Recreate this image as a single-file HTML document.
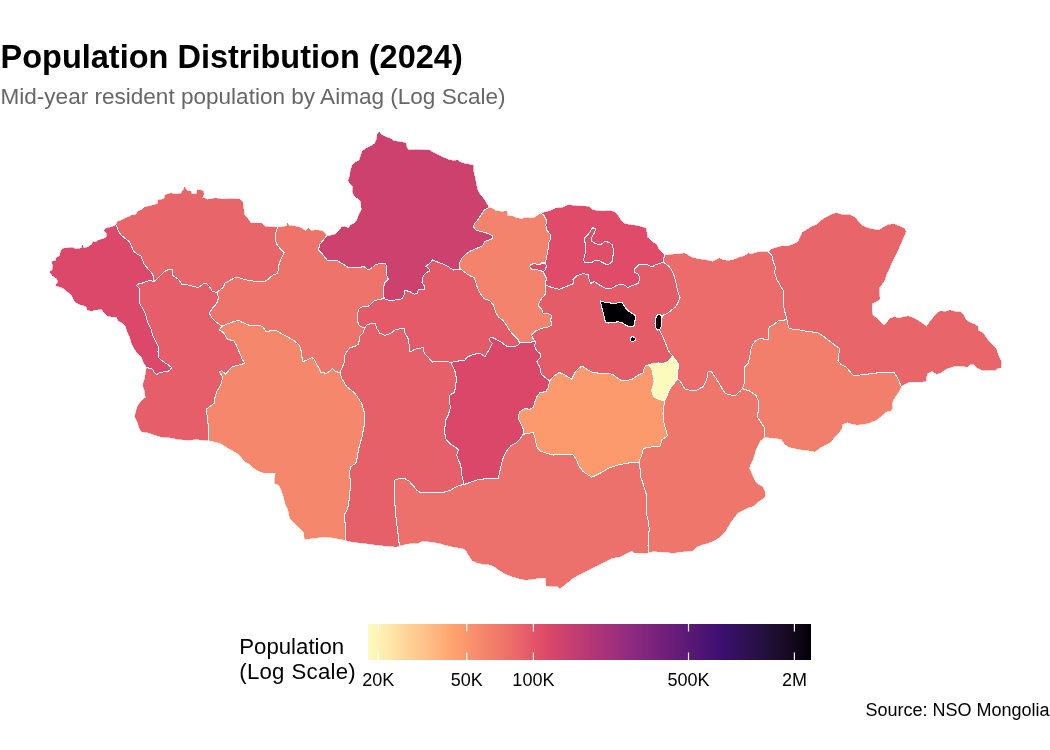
<!DOCTYPE html>
<html><head><meta charset="utf-8"><title>Population Distribution (2024)</title>
<style>
html,body{margin:0;padding:0;background:#fff;}
body{width:1050px;height:750px;position:relative;overflow:hidden;font-family:"Liberation Sans",sans-serif;color:#000;}
.title{position:absolute;left:0.5px;top:38px;font-size:32.5px;font-weight:bold;line-height:38px;white-space:nowrap;letter-spacing:0px;}
.sub{position:absolute;left:0.5px;top:83.5px;font-size:22.55px;line-height:26px;color:#666;white-space:nowrap;}
.legt{position:absolute;left:239.3px;top:633.5px;font-size:22.2px;line-height:25.4px;white-space:nowrap;}
.lab{position:absolute;top:669.6px;font-size:18px;line-height:20px;white-space:nowrap;transform:translateX(-50%);}
.src{position:absolute;right:0.5px;top:700px;font-size:18px;line-height:20px;white-space:nowrap;}
svg{position:absolute;left:0;top:0;}
.fills path{stroke-width:0.5;stroke-linejoin:round;}
.borders path{fill:none;stroke:#fff;stroke-width:1.05;stroke-linejoin:round;stroke-linecap:round;}
.islands path{stroke:#fff;stroke-width:1.05;stroke-linejoin:round;}
</style></head><body>
<svg width="1050" height="750" viewBox="0 0 1050 750">
<defs><linearGradient id="g" x1="0" x2="1" y1="0" y2="0"><stop offset="0.0%" stop-color="#FCFDBF"/><stop offset="2.5%" stop-color="#FEF1B4"/><stop offset="5.0%" stop-color="#FFE6AA"/><stop offset="7.5%" stop-color="#FFDA9F"/><stop offset="10.0%" stop-color="#FFCE95"/><stop offset="12.5%" stop-color="#FFC38B"/><stop offset="15.0%" stop-color="#FFB781"/><stop offset="17.5%" stop-color="#FFAB77"/><stop offset="20.0%" stop-color="#FE9F6D"/><stop offset="22.5%" stop-color="#FA956D"/><stop offset="25.0%" stop-color="#F78B6C"/><stop offset="27.5%" stop-color="#F3816C"/><stop offset="30.0%" stop-color="#EF776B"/><stop offset="32.5%" stop-color="#EB6C6A"/><stop offset="35.0%" stop-color="#E7616A"/><stop offset="37.5%" stop-color="#E25569"/><stop offset="40.0%" stop-color="#DE4968"/><stop offset="42.5%" stop-color="#D4456B"/><stop offset="45.0%" stop-color="#CA406F"/><stop offset="47.5%" stop-color="#C03C72"/><stop offset="50.0%" stop-color="#B63875"/><stop offset="52.5%" stop-color="#AC3478"/><stop offset="55.0%" stop-color="#A2307B"/><stop offset="57.5%" stop-color="#972D7E"/><stop offset="60.0%" stop-color="#8C2981"/><stop offset="62.5%" stop-color="#82257F"/><stop offset="65.0%" stop-color="#79227D"/><stop offset="67.5%" stop-color="#6F1E7B"/><stop offset="70.0%" stop-color="#651B79"/><stop offset="72.5%" stop-color="#5B1876"/><stop offset="75.0%" stop-color="#511574"/><stop offset="77.5%" stop-color="#461272"/><stop offset="80.0%" stop-color="#3B0F70"/><stop offset="82.5%" stop-color="#351062"/><stop offset="85.0%" stop-color="#2F1054"/><stop offset="87.5%" stop-color="#281047"/><stop offset="90.0%" stop-color="#220F3A"/><stop offset="92.5%" stop-color="#1C0D2D"/><stop offset="95.0%" stop-color="#170921"/><stop offset="97.5%" stop-color="#0E0516"/><stop offset="100.0%" stop-color="#000004"/></linearGradient></defs>
<g class="map" shape-rendering="crispEdges">
<g class="fills">
<path class="bayanolgii" fill="#DC4869" stroke="#DC4869" d="M146.7,367.5L145.8,365.8L143.3,361.7L141.7,356.7L137.5,353.3L134.2,348.3L131.7,343.3L130.0,337.5L127.5,331.7L125.8,326.7L123.3,323.3L118.3,320.8L116.7,316.7L111.7,316.7L107.5,315.8L104.2,312.5L101.7,309.2L95.0,309.7L91.7,310.8L87.5,310.0L86.7,306.7L82.5,305.0L79.2,304.2L75.0,301.7L73.3,298.3L71.7,295.0L67.5,291.7L63.3,288.3L60.0,286.7L55.8,285.8L58.0,281.7L56.7,278.3L52.5,275.8L49.7,272.0L52.5,270.0L53.0,265.8L51.7,261.7L55.8,260.8L56.7,257.5L60.0,255.8L60.8,251.7L62.5,248.7L67.5,248.0L72.5,247.5L75.8,249.2L81.7,248.3L82.5,245.3L83.0,248.0L87.5,247.5L91.7,244.7L93.0,241.7L95.0,242.5L99.2,240.0L104.2,238.7L106.7,236.7L106.7,233.3L104.2,230.8L105.8,228.3L110.0,227.5L114.2,226.3L116.3,225.0L117.0,226.7L118.3,230.8L120.8,235.0L125.0,238.3L129.2,241.7L131.7,246.7L133.3,250.8L136.7,253.7L140.8,255.8L142.5,260.0L144.2,264.2L147.5,268.3L150.8,271.7L153.3,275.8L154.2,282.0L150.8,280.3L146.7,281.3L141.7,283.3L137.5,284.2L136.7,285.8L139.2,288.3L139.7,293.3L139.7,300.0L140.0,304.2L143.3,309.2L145.8,315.0L147.5,321.7L150.8,328.3L152.5,335.0L155.8,341.7L158.3,346.7L158.0,351.7L158.3,357.5L163.3,361.7L168.3,365.0L171.7,367.5L169.7,370.8L165.0,371.7L160.0,372.5L156.7,374.5L154.2,372.5L152.5,369.2L146.7,367.5Z"/>
<path class="uvs" fill="#E8666A" stroke="#E8666A" d="M116.3,225.0L117.5,221.7L121.7,220.3L125.0,218.3L129.2,216.7L131.7,215.3L135.8,215.0L137.5,211.7L141.7,210.0L145.0,207.0L149.2,206.3L153.3,205.0L157.5,204.2L158.3,200.0L164.2,199.2L165.0,195.0L170.8,193.3L175.0,194.2L180.8,193.7L183.3,190.0L184.7,187.0L186.7,190.8L190.8,191.3L191.7,194.2L196.7,194.2L197.5,190.0L203.3,190.8L203.7,194.2L202.5,197.5L207.5,199.7L215.0,198.3L223.3,199.2L231.7,198.8L239.2,199.2L242.5,201.7L243.3,207.5L244.2,215.0L248.3,219.2L250.8,223.3L256.7,223.3L261.7,223.3L265.0,226.7L271.7,227.0L277.5,227.5L275.8,232.5L275.0,238.3L276.7,244.2L280.0,248.3L284.2,252.5L281.7,257.5L279.2,263.3L278.3,270.0L277.5,273.3L272.5,275.3L268.3,279.2L265.0,281.3L255.0,281.3L245.0,279.7L238.3,277.5L235.0,277.5L229.2,280.8L224.7,283.3L223.3,287.5L220.0,290.0L216.7,292.5L211.7,290.8L210.8,288.3L207.5,284.2L204.2,283.3L200.8,285.8L198.3,287.5L193.3,286.3L188.3,285.0L181.7,284.2L179.2,280.0L175.8,277.5L173.0,275.8L172.5,269.7L168.3,269.7L164.2,271.7L160.0,275.8L156.7,279.2L154.2,282.0L153.3,275.8L150.8,271.7L147.5,268.3L144.2,264.2L142.5,260.0L140.8,255.8L136.7,253.7L133.3,250.8L131.7,246.7L129.2,241.7L125.0,238.3L120.8,235.0L118.3,230.8L117.0,226.7L116.3,225.0Z"/>
<path class="khovd" fill="#E55E69" stroke="#E55E69" d="M154.2,282.0L156.7,279.2L160.0,275.8L164.2,271.7L168.3,269.7L172.5,269.7L173.0,275.8L175.8,277.5L179.2,280.0L181.7,284.2L188.3,285.0L193.3,286.3L198.3,287.5L200.8,285.8L204.2,283.3L207.5,284.2L210.8,288.3L211.7,290.8L216.7,292.5L218.7,297.5L216.7,303.3L212.5,308.3L209.2,313.0L211.7,317.5L215.8,321.7L221.7,326.3L219.2,330.0L222.5,331.7L225.0,335.0L227.5,339.2L233.7,340.8L236.3,345.0L238.3,350.0L240.8,355.8L242.5,360.0L245.0,363.3L239.2,365.0L232.5,366.7L229.2,370.0L225.8,374.2L221.7,370.8L219.2,371.7L222.5,376.7L221.7,382.5L219.2,387.5L216.7,391.7L215.0,397.5L214.2,403.3L210.8,405.8L206.3,409.2L206.3,411.7L207.5,416.7L208.0,423.3L208.3,431.7L208.7,440.3L203.3,440.0L196.7,439.2L188.3,440.0L178.3,439.2L170.0,437.5L161.7,437.0L155.0,435.0L148.3,432.5L141.7,431.7L139.2,427.5L137.5,421.7L135.0,416.7L136.3,410.8L138.3,405.0L142.5,400.0L145.8,397.5L144.7,390.8L143.0,385.8L143.3,383.3L145.0,378.3L145.8,373.3L146.7,367.5L152.5,369.2L154.2,372.5L156.7,374.5L160.0,372.5L165.0,371.7L169.7,370.8L171.7,367.5L168.3,365.0L163.3,361.7L158.3,357.5L158.0,351.7L158.3,346.7L155.8,341.7L152.5,335.0L150.8,328.3L147.5,321.7L145.8,315.0L143.3,309.2L140.0,304.2L139.7,300.0L139.7,293.3L139.2,288.3L136.7,285.8L137.5,284.2L141.7,283.3L146.7,281.3L150.8,280.3L154.2,282.0Z"/>
<path class="zavkhan" fill="#EE746B" stroke="#EE746B" d="M277.5,227.5L283.3,226.7L286.7,226.3L287.5,223.3L289.2,225.8L295.0,226.3L300.0,227.5L304.2,230.0L305.8,231.3L308.3,228.3L310.8,230.8L316.7,230.3L321.7,230.8L325.0,233.3L326.3,236.3L323.3,240.0L320.0,244.2L318.3,250.0L321.7,253.3L325.0,257.5L327.5,260.3L337.5,260.8L343.3,264.2L348.3,267.5L356.7,267.5L364.2,266.7L368.3,270.0L372.5,267.5L375.8,264.2L381.7,263.7L385.8,263.7L386.7,270.0L387.0,275.8L388.3,279.2L385.0,282.5L383.3,287.5L383.3,293.3L384.2,298.7L380.0,299.2L374.2,300.8L370.8,304.2L367.5,306.7L362.5,306.7L359.2,308.3L357.5,313.3L357.5,320.0L358.3,324.2L360.8,326.7L364.7,328.0L363.3,332.5L360.0,335.8L359.2,340.8L358.3,344.2L354.2,346.7L350.0,347.5L347.5,350.8L345.0,355.0L344.7,361.7L342.5,366.7L340.0,372.5L335.8,371.7L332.5,368.7L330.0,370.8L326.7,373.3L320.8,372.5L319.2,368.3L316.7,364.2L314.2,359.2L311.7,357.5L306.7,360.3L302.5,361.7L301.7,355.0L300.8,349.2L299.2,345.0L294.2,340.8L287.5,336.7L281.7,333.7L276.7,330.8L271.7,330.8L265.8,331.3L262.5,326.3L256.7,325.3L248.3,325.0L242.5,322.5L238.7,320.3L233.3,321.7L226.7,324.2L221.7,326.3L215.8,321.7L211.7,317.5L209.2,313.0L212.5,308.3L216.7,303.3L218.7,297.5L216.7,292.5L220.0,290.0L223.3,287.5L224.7,283.3L229.2,280.8L235.0,277.5L238.3,277.5L245.0,279.7L255.0,281.3L265.0,281.3L268.3,279.2L272.5,275.3L277.5,273.3L278.3,270.0L279.2,263.3L281.7,257.5L284.2,252.5L280.0,248.3L276.7,244.2L275.0,238.3L275.8,232.5L277.5,227.5Z"/>
<path class="govialtai" fill="#F5886C" stroke="#F5886C" d="M221.7,326.3L226.7,324.2L233.3,321.7L238.7,320.3L242.5,322.5L248.3,325.0L256.7,325.3L262.5,326.3L265.8,331.3L271.7,330.8L276.7,330.8L281.7,333.7L287.5,336.7L294.2,340.8L299.2,345.0L300.8,349.2L301.7,355.0L302.5,361.7L306.7,360.3L311.7,357.5L314.2,359.2L316.7,364.2L319.2,368.3L320.8,372.5L326.7,373.3L330.0,370.8L332.5,368.7L335.8,371.7L340.0,372.5L341.7,378.3L346.7,386.7L355.0,393.3L361.7,403.3L365.0,415.0L364.0,426.7L361.7,438.3L358.3,450.0L357.5,456.7L355.8,463.3L350.8,466.7L349.7,471.7L350.0,478.3L350.3,486.7L349.7,495.0L348.7,503.3L347.5,509.2L344.7,514.2L345.0,521.7L345.3,530.0L345.3,540.0L338.3,538.7L331.7,537.5L325.0,536.7L318.3,537.5L311.7,538.3L304.7,539.2L304.2,532.5L300.0,528.3L295.0,523.3L290.0,518.3L288.3,510.0L285.8,505.0L284.2,498.3L281.7,490.8L279.2,485.0L274.7,483.3L274.7,478.3L275.8,472.5L270.0,472.5L263.3,472.5L258.3,470.8L254.2,468.3L250.0,464.2L245.0,461.7L241.7,457.5L237.5,453.3L231.7,450.0L225.8,446.7L220.8,443.3L215.0,441.7L208.7,440.3L208.3,431.7L208.0,423.3L207.5,416.7L206.3,411.7L206.3,409.2L210.8,405.8L214.2,403.3L215.0,397.5L216.7,391.7L219.2,387.5L221.7,382.5L222.5,376.7L219.2,371.7L221.7,370.8L225.8,374.2L229.2,370.0L232.5,366.7L239.2,365.0L245.0,363.3L242.5,360.0L240.8,355.8L238.3,350.0L236.3,345.0L233.7,340.8L227.5,339.2L225.0,335.0L222.5,331.7L219.2,330.0L221.7,326.3Z"/>
<path class="khovsgol" fill="#CD416E" stroke="#CD416E" d="M326.3,236.3L330.0,235.8L335.8,234.2L339.2,230.8L341.7,227.0L345.0,226.7L348.3,228.3L350.8,225.0L355.0,223.3L357.5,219.2L359.2,214.2L361.7,210.0L361.3,205.0L360.8,200.8L357.5,198.3L354.2,195.8L352.5,191.7L353.0,186.7L350.0,183.3L348.3,180.8L350.0,175.8L350.8,170.0L352.5,165.0L355.8,162.0L359.2,160.8L360.8,155.8L362.5,150.8L366.7,148.3L371.7,145.8L375.0,143.3L376.7,139.2L377.5,134.2L379.2,132.0L381.7,135.0L385.8,137.0L390.0,138.3L393.3,140.8L398.3,141.7L403.3,142.5L405.8,143.3L406.7,147.5L408.3,150.0L416.7,149.7L423.3,150.0L429.2,150.3L433.3,152.5L438.3,155.0L443.3,157.5L448.3,159.7L453.3,160.8L457.5,160.3L460.8,162.5L466.7,164.2L473.3,165.3L473.3,171.7L475.0,178.3L476.3,185.0L477.5,190.0L480.0,194.7L483.3,198.3L485.8,202.5L488.7,207.5L484.2,210.0L481.7,214.2L478.3,219.2L475.0,223.3L473.3,226.7L475.8,230.0L481.7,231.7L487.5,233.3L492.5,235.8L493.0,238.3L489.2,240.0L485.0,241.3L482.5,245.8L476.7,248.3L470.8,250.8L465.8,254.2L461.7,258.3L459.7,262.5L460.0,268.7L460.3,268.7L458.3,269.7L453.3,270.0L448.3,266.7L443.3,264.2L436.7,261.7L432.5,260.0L430.0,263.3L425.8,266.3L428.3,268.0L430.0,270.8L427.5,272.0L424.2,274.7L422.5,278.3L422.0,282.5L424.2,285.8L425.0,289.2L418.3,290.0L417.5,293.0L414.2,294.2L410.0,291.7L405.0,290.3L404.2,294.2L402.5,298.7L396.7,299.7L390.0,300.8L384.2,298.7L383.3,293.3L383.3,287.5L385.0,282.5L388.3,279.2L387.0,275.8L386.7,270.0L385.8,263.7L381.7,263.7L375.8,264.2L372.5,267.5L368.3,270.0L364.2,266.7L356.7,267.5L348.3,267.5L343.3,264.2L337.5,260.8L327.5,260.3L325.0,257.5L321.7,253.3L318.3,250.0L320.0,244.2L323.3,240.0L326.3,236.3Z"/>
<path class="arkhangai" fill="#E45A69" stroke="#E45A69" d="M384.2,298.7L390.0,300.8L396.7,299.7L402.5,298.7L404.2,294.2L405.0,290.3L410.0,291.7L414.2,294.2L417.5,293.0L418.3,290.0L425.0,289.2L424.2,285.8L422.0,282.5L422.5,278.3L424.2,274.7L427.5,272.0L430.0,270.8L428.3,268.0L425.8,266.3L430.0,263.3L432.5,260.0L436.7,261.7L443.3,264.2L448.3,266.7L453.3,270.0L458.3,269.7L460.3,268.7L465.0,272.5L470.0,275.8L474.2,277.5L475.8,282.5L477.5,288.3L480.8,294.2L484.2,298.7L490.0,300.8L493.3,305.0L495.8,312.5L498.3,316.7L502.5,320.0L505.8,324.2L508.3,328.3L511.7,333.3L515.8,337.5L518.3,340.0L519.7,343.0L517.5,345.8L511.7,346.7L506.7,346.3L501.7,342.5L496.7,339.7L491.7,337.0L489.7,338.3L490.0,340.8L492.5,343.3L490.0,348.3L487.5,352.5L485.0,356.7L480.0,353.3L474.2,354.2L467.5,356.7L465.0,360.0L456.7,361.3L450.8,362.5L446.7,361.3L440.0,361.7L432.5,362.0L428.3,357.5L424.2,353.3L423.3,347.5L415.0,349.2L410.0,352.0L409.2,345.0L408.0,338.3L405.0,333.3L404.2,328.0L400.0,328.7L395.0,330.0L390.8,333.3L385.0,335.3L380.0,333.3L376.7,328.3L375.3,323.3L371.7,323.3L366.7,325.0L364.7,328.0L360.8,326.7L358.3,324.2L357.5,320.0L357.5,313.3L359.2,308.3L362.5,306.7L367.5,306.7L370.8,304.2L374.2,300.8L380.0,299.2L384.2,298.7Z"/>
<path class="bayankhongor" fill="#E6606A" stroke="#E6606A" d="M364.7,328.0L366.7,325.0L371.7,323.3L375.3,323.3L376.7,328.3L380.0,333.3L385.0,335.3L390.8,333.3L395.0,330.0L400.0,328.7L404.2,328.0L405.0,333.3L408.0,338.3L409.2,345.0L410.0,352.0L415.0,349.2L423.3,347.5L424.2,353.3L428.3,357.5L432.5,362.0L440.0,361.7L446.7,361.3L450.8,362.5L453.3,367.5L455.8,373.3L456.3,380.0L455.3,388.3L454.2,392.5L450.0,395.0L449.7,401.7L450.3,408.3L448.3,415.0L445.8,420.0L445.0,426.7L444.7,433.3L446.3,440.0L450.8,444.2L455.8,447.5L458.3,450.0L456.7,455.0L458.3,460.0L460.8,465.0L461.7,475.0L463.3,480.8L463.7,484.7L459.2,485.3L455.0,487.5L450.8,490.0L445.0,492.0L435.0,492.5L426.7,492.5L419.2,492.0L416.7,490.0L413.3,485.8L409.2,481.3L405.0,478.7L399.2,478.7L395.0,480.0L394.2,483.3L394.2,491.7L394.7,500.0L395.3,510.0L396.3,520.0L397.5,530.0L398.7,538.3L399.2,545.8L396.7,546.7L391.7,546.3L385.0,545.8L378.3,545.0L371.7,544.2L365.0,543.3L358.3,542.5L351.7,541.7L345.3,540.0L345.3,530.0L345.0,521.7L344.7,514.2L347.5,509.2L348.7,503.3L349.7,495.0L350.3,486.7L350.0,478.3L349.7,471.7L350.8,466.7L355.8,463.3L357.5,456.7L358.3,450.0L361.7,438.3L364.0,426.7L365.0,415.0L361.7,403.3L355.0,393.3L346.7,386.7L341.7,378.3L340.0,372.5L342.5,366.7L344.7,361.7L345.0,355.0L347.5,350.8L350.0,347.5L354.2,346.7L358.3,344.2L359.2,340.8L360.0,335.8L363.3,332.5L364.7,328.0Z"/>
<path class="bulgan" fill="#F3836C" stroke="#F3836C" d="M488.7,207.5L492.5,208.7L495.8,210.8L501.7,211.7L506.7,211.3L507.5,215.8L512.5,216.3L516.7,218.0L521.7,219.2L525.8,217.5L530.8,218.3L535.0,217.5L538.3,215.0L541.3,213.3L544.2,215.8L546.7,220.8L545.8,225.0L546.7,230.0L550.0,234.2L550.8,238.3L548.3,243.3L548.0,250.0L546.7,256.7L545.3,263.0L546.3,265.8L545.8,269.2L543.3,271.7L544.7,275.0L546.3,278.0L545.8,282.5L545.8,285.0L545.3,289.2L545.0,295.0L541.7,298.3L539.2,302.5L538.3,305.8L541.7,309.2L543.0,313.3L548.3,313.7L551.3,315.0L550.8,320.8L552.0,325.0L548.3,327.0L541.7,328.3L535.8,330.8L531.7,335.0L533.3,339.2L535.3,341.7L534.2,341.7L526.7,342.5L519.7,343.0L518.3,340.0L515.8,337.5L511.7,333.3L508.3,328.3L505.8,324.2L502.5,320.0L498.3,316.7L495.8,312.5L493.3,305.0L490.0,300.8L484.2,298.7L480.8,294.2L477.5,288.3L475.8,282.5L474.2,277.5L470.0,275.8L465.0,272.5L460.3,268.7L460.0,268.7L459.7,262.5L461.7,258.3L465.8,254.2L470.8,250.8L476.7,248.3L482.5,245.8L485.0,241.3L489.2,240.0L493.0,238.3L492.5,235.8L487.5,233.3L481.7,231.7L475.8,230.0L473.3,226.7L475.0,223.3L478.3,219.2L481.7,214.2L484.2,210.0L488.7,207.5Z"/>
<path class="ovorkhangai" fill="#DB4769" stroke="#DB4769" d="M450.8,362.5L456.7,361.3L465.0,360.0L467.5,356.7L474.2,354.2L480.0,353.3L485.0,356.7L487.5,352.5L490.0,348.3L492.5,343.3L490.0,340.8L489.7,338.3L491.7,337.0L496.7,339.7L501.7,342.5L506.7,346.3L511.7,346.7L517.5,345.8L519.7,343.0L526.7,342.5L534.2,341.7L535.3,341.7L534.7,346.7L536.7,350.8L540.0,353.3L540.3,357.5L536.7,361.7L539.7,366.7L541.3,374.2L545.0,377.5L549.7,380.8L548.3,387.5L545.8,391.7L540.0,392.5L536.7,396.7L535.0,401.7L533.3,407.5L530.0,409.2L524.2,408.7L520.0,411.7L518.3,415.8L519.2,420.8L521.7,425.0L523.3,429.2L523.3,434.2L520.0,439.2L516.7,442.5L510.8,445.8L506.7,450.8L503.3,457.5L501.3,465.0L498.3,478.3L488.3,478.3L476.7,480.0L463.7,484.7L463.3,480.8L461.7,475.0L460.8,465.0L458.3,460.0L456.7,455.0L458.3,450.0L455.8,447.5L450.8,444.2L446.3,440.0L444.7,433.3L445.0,426.7L445.8,420.0L448.3,415.0L450.3,408.3L449.7,401.7L450.0,395.0L454.2,392.5L455.3,388.3L456.3,380.0L455.8,373.3L453.3,367.5L450.8,362.5Z"/>
<path class="selenge" fill="#DF4B68" stroke="#DF4B68" d="M541.3,213.3L545.8,212.0L550.8,210.8L555.8,208.3L563.3,207.5L568.3,205.0L574.2,205.8L581.7,206.3L589.2,206.7L591.7,209.7L596.7,210.8L603.3,211.3L610.0,210.8L614.2,212.0L617.5,215.0L620.0,219.2L623.3,223.3L626.7,224.3L636.7,225.7L645.8,228.3L646.7,233.3L647.5,237.5L651.7,241.7L656.7,244.7L658.3,248.3L661.7,252.5L664.7,255.5L663.7,258.3L663.8,262.5L660.8,263.0L655.8,264.7L651.7,267.0L648.3,265.0L643.3,264.2L638.3,265.0L634.2,269.2L635.0,272.5L638.3,274.2L639.7,278.3L638.3,283.3L631.7,285.8L627.5,287.5L625.0,285.3L620.8,284.2L615.8,285.8L611.7,288.3L606.7,288.7L602.5,286.7L598.3,284.2L594.2,281.7L590.8,283.3L589.2,280.0L588.3,274.7L583.3,273.7L576.7,275.8L573.0,279.2L573.3,283.7L565.8,286.7L559.2,289.2L551.7,287.5L545.8,285.0L545.8,282.5L546.3,278.0L544.7,275.0L543.3,271.7L545.8,269.2L546.3,265.8L545.3,263.0L546.7,256.7L548.0,250.0L548.3,243.3L550.8,238.3L550.0,234.2L546.7,230.0L545.8,225.0L546.7,220.8L544.2,215.8L541.3,213.3Z"/>
<path class="tov" fill="#E55C69" stroke="#E55C69" d="M545.8,285.0L551.7,287.5L559.2,289.2L565.8,286.7L573.3,283.7L573.0,279.2L576.7,275.8L583.3,273.7L588.3,274.7L589.2,280.0L590.8,283.3L594.2,281.7L598.3,284.2L602.5,286.7L606.7,288.7L611.7,288.3L615.8,285.8L620.8,284.2L625.0,285.3L627.5,287.5L631.7,285.8L638.3,283.3L639.7,278.3L638.3,274.2L635.0,272.5L634.2,269.2L638.3,265.0L643.3,264.2L648.3,265.0L651.7,267.0L655.8,264.7L660.8,263.0L663.8,262.5L668.3,265.8L671.7,270.0L674.2,275.8L675.8,281.7L677.0,288.3L678.3,293.3L680.0,297.5L678.0,302.5L675.8,306.7L671.7,310.0L667.5,313.3L663.3,315.0L662.0,317.5L661.3,321.7L661.7,325.0L660.0,329.2L659.7,330.3L662.5,335.8L665.0,341.7L667.5,348.3L668.3,350.8L672.5,355.8L670.8,358.3L667.5,361.7L663.3,363.3L658.3,363.0L653.3,363.3L648.3,365.0L645.8,365.8L644.2,368.3L643.3,373.0L640.0,374.2L635.8,376.7L631.7,379.7L626.7,380.3L620.8,380.3L616.7,377.5L612.5,374.2L606.7,373.3L600.0,373.3L593.3,372.5L586.7,369.2L582.5,366.3L579.2,367.5L575.0,372.5L571.7,379.2L565.0,375.0L559.2,372.5L554.2,375.8L549.7,380.8L545.0,377.5L541.3,374.2L539.7,366.7L536.7,361.7L540.3,357.5L540.0,353.3L536.7,350.8L534.7,346.7L535.3,341.7L533.3,339.2L531.7,335.0L535.8,330.8L541.7,328.3L548.3,327.0L552.0,325.0L550.8,320.8L551.3,315.0L548.3,313.7L543.0,313.3L541.7,309.2L538.3,305.8L539.2,302.5L541.7,298.3L545.0,295.0L545.3,289.2L545.8,285.0Z"/>
<path class="khentii" fill="#EB6C6A" stroke="#EB6C6A" d="M664.7,255.5L670.0,254.7L678.3,254.2L684.2,253.3L687.5,255.0L691.7,257.5L698.3,259.2L705.0,260.0L712.5,261.7L715.8,260.3L719.2,258.3L722.5,260.0L728.3,260.8L733.3,260.0L739.2,257.5L745.0,255.8L748.3,253.3L751.7,254.2L756.7,252.5L763.3,251.7L768.3,252.0L771.7,255.0L773.3,261.7L775.3,266.7L774.7,273.3L776.7,279.2L780.0,285.0L783.3,290.8L783.7,296.7L783.3,305.0L785.0,312.5L787.0,319.7L778.3,320.8L773.3,325.0L769.2,326.7L768.3,333.3L768.7,340.0L764.2,339.2L760.3,338.3L755.8,340.8L752.5,344.7L750.8,350.0L749.7,356.7L748.3,363.0L745.0,366.7L744.2,373.3L745.0,380.0L743.7,385.0L742.5,388.7L740.0,391.3L735.8,395.3L731.7,395.3L725.0,393.3L722.5,389.2L719.7,384.2L716.7,379.2L714.2,375.8L711.7,372.0L708.0,371.7L707.5,376.7L705.8,381.7L703.3,386.7L700.0,388.3L698.3,389.7L694.2,390.8L689.2,390.0L685.0,389.2L682.5,385.0L680.0,380.8L677.0,378.7L677.5,374.2L678.0,368.3L678.0,363.3L675.8,360.0L672.5,355.8L668.3,350.8L667.5,348.3L665.0,341.7L662.5,335.8L659.7,330.3L660.0,329.2L661.7,325.0L661.3,321.7L662.0,317.5L663.3,315.0L667.5,313.3L671.7,310.0L675.8,306.7L678.0,302.5L680.0,297.5L678.3,293.3L677.0,288.3L675.8,281.7L674.2,275.8L671.7,270.0L668.3,265.8L663.8,262.5L663.7,258.3L664.7,255.5Z"/>
<path class="dornod" fill="#E8666A" stroke="#E8666A" d="M768.3,252.0L771.7,249.2L776.7,247.5L781.7,246.3L788.3,246.3L793.3,244.2L798.3,242.0L800.0,237.5L802.5,232.5L806.7,230.0L811.7,226.7L816.7,224.7L820.8,220.8L825.8,217.5L830.8,215.0L835.8,213.0L841.7,214.7L850.0,215.0L855.0,217.5L858.3,221.7L862.5,225.8L868.3,228.3L875.0,229.7L879.2,230.0L883.3,227.5L888.3,224.7L894.2,224.2L899.2,226.3L904.2,228.3L905.8,231.7L903.3,237.5L900.8,243.3L898.3,249.2L895.0,255.8L892.5,260.8L890.0,266.7L887.5,271.7L885.8,275.8L885.0,279.2L882.5,283.3L879.2,287.5L879.2,293.3L879.7,299.2L875.8,301.7L871.7,303.3L871.7,309.2L872.5,315.0L876.7,318.3L880.8,322.5L884.2,325.8L887.5,321.7L890.0,318.7L894.2,317.0L899.2,318.3L903.3,317.0L908.3,316.3L913.3,318.0L918.3,320.8L923.3,324.2L926.7,326.7L930.0,321.7L933.3,317.5L936.7,313.7L940.0,311.3L945.0,311.7L950.0,310.3L955.0,311.7L960.8,312.0L963.3,315.0L965.8,320.0L970.0,322.5L975.0,324.7L978.0,326.7L978.3,330.8L983.3,333.3L985.8,337.5L989.2,341.7L992.5,345.0L995.8,348.3L997.5,353.3L999.2,357.5L1001.3,361.7L1000.8,367.5L996.7,368.7L995.8,370.0L990.0,370.0L983.3,370.3L979.2,368.7L975.8,366.7L974.2,364.2L970.0,364.2L967.5,366.7L963.3,366.3L958.3,365.8L953.3,366.3L948.3,368.0L944.2,370.0L940.8,372.5L936.7,374.2L933.3,371.7L931.7,371.3L927.5,373.0L926.3,376.7L925.8,381.3L920.0,381.7L914.2,381.7L909.2,382.0L906.7,383.3L902.5,385.0L901.3,386.7L899.2,381.7L896.7,376.7L894.2,372.5L886.7,372.5L876.7,373.0L866.7,374.2L860.0,375.0L853.7,375.8L850.0,371.7L846.7,367.5L840.8,364.2L838.0,360.8L838.7,354.2L840.0,348.7L834.2,344.7L828.3,340.0L821.7,335.0L816.7,332.5L806.7,331.3L798.3,329.7L789.2,328.7L788.0,325.0L787.0,319.7L785.0,312.5L783.3,305.0L783.7,296.7L783.3,290.8L780.0,285.0L776.7,279.2L774.7,273.3L775.3,266.7L773.3,261.7L771.7,255.0L768.3,252.0Z"/>
<path class="sukhbaatar" fill="#F27E6C" stroke="#F27E6C" d="M787.0,319.7L788.0,325.0L789.2,328.7L798.3,329.7L806.7,331.3L816.7,332.5L821.7,335.0L828.3,340.0L834.2,344.7L840.0,348.7L838.7,354.2L838.0,360.8L840.8,364.2L846.7,367.5L850.0,371.7L853.7,375.8L860.0,375.0L866.7,374.2L876.7,373.0L886.7,372.5L894.2,372.5L896.7,376.7L899.2,381.7L901.3,386.7L899.2,390.8L895.8,395.8L893.0,400.0L891.7,404.2L892.5,407.5L890.8,410.8L885.8,411.7L882.5,415.0L878.3,418.3L876.7,419.7L870.0,422.5L863.3,424.2L856.7,424.7L851.7,423.7L847.5,422.2L842.5,424.2L841.7,428.3L838.3,433.3L834.2,437.5L830.0,442.5L825.0,445.0L820.0,447.5L815.0,451.7L808.3,450.3L801.7,449.7L795.0,448.3L789.2,447.0L785.0,444.2L781.3,439.2L775.0,438.0L769.2,437.5L765.0,437.0L764.7,428.3L761.7,423.3L757.5,417.5L758.3,410.0L758.7,401.7L755.8,395.0L749.2,390.8L742.5,388.7L743.7,385.0L745.0,380.0L744.2,373.3L745.0,366.7L748.3,363.0L749.7,356.7L750.8,350.0L752.5,344.7L755.8,340.8L760.3,338.3L764.2,339.2L768.7,340.0L768.3,333.3L769.2,326.7L773.3,325.0L778.3,320.8L787.0,319.7Z"/>
<path class="dornogovi" fill="#EE766B" stroke="#EE766B" d="M677.0,378.7L680.0,380.8L682.5,385.0L685.0,389.2L689.2,390.0L694.2,390.8L698.3,389.7L700.0,388.3L703.3,386.7L705.8,381.7L707.5,376.7L708.0,371.7L711.7,372.0L714.2,375.8L716.7,379.2L719.7,384.2L722.5,389.2L725.0,393.3L731.7,395.3L735.8,395.3L740.0,391.3L742.5,388.7L749.2,390.8L755.8,395.0L758.7,401.7L758.3,410.0L757.5,417.5L761.7,423.3L764.7,428.3L765.0,437.0L760.0,440.8L757.5,445.8L755.0,451.7L753.3,458.3L750.8,463.3L749.2,468.3L751.7,474.2L754.2,480.0L757.5,484.2L762.5,486.7L764.7,491.7L765.0,495.8L763.3,498.3L759.2,500.8L755.8,504.2L752.5,506.3L748.3,507.5L743.3,510.0L737.5,513.0L734.2,517.5L730.8,521.7L727.5,527.5L724.2,532.5L720.0,537.0L714.2,540.3L708.3,543.0L701.7,544.7L696.7,546.7L692.5,550.8L686.7,551.3L680.0,551.7L673.3,553.0L666.7,552.0L660.0,551.7L653.3,551.3L648.3,552.5L648.0,545.0L648.7,536.7L649.2,528.3L648.0,520.0L646.3,513.3L646.3,505.0L647.0,496.7L645.0,490.0L642.5,481.7L640.0,475.0L640.7,473.3L639.2,463.0L640.0,459.2L641.7,455.0L643.3,449.2L646.7,447.5L653.3,446.7L659.7,446.7L660.8,444.2L661.7,440.0L664.2,438.3L667.5,435.8L666.7,432.5L665.0,426.7L663.3,420.0L663.0,413.3L663.7,406.7L665.0,400.3L666.7,396.7L668.3,391.7L670.8,387.5L674.2,383.3L677.0,378.7Z"/>
<path class="dundgovi" fill="#FC9A6D" stroke="#FC9A6D" d="M549.7,380.8L554.2,375.8L559.2,372.5L565.0,375.0L571.7,379.2L575.0,372.5L579.2,367.5L582.5,366.3L586.7,369.2L593.3,372.5L600.0,373.3L606.7,373.3L612.5,374.2L616.7,377.5L620.8,380.3L626.7,380.3L631.7,379.7L635.8,376.7L640.0,374.2L643.3,373.0L644.2,368.3L645.8,365.8L648.3,365.0L650.8,367.5L652.5,370.8L653.3,376.7L654.2,381.7L653.0,385.8L651.7,390.8L653.3,395.8L656.7,398.7L660.8,400.0L665.0,400.3L663.7,406.7L663.0,413.3L663.3,420.0L665.0,426.7L666.7,432.5L667.5,435.8L664.2,438.3L661.7,440.0L660.8,444.2L659.7,446.7L653.3,446.7L646.7,447.5L643.3,449.2L641.7,455.0L640.0,459.2L639.2,463.0L630.0,462.7L618.3,465.0L608.3,468.3L600.0,473.3L591.7,477.3L583.3,471.7L578.3,465.0L576.7,460.0L573.3,455.0L563.3,454.7L553.3,455.0L546.7,453.3L540.0,450.8L536.7,446.7L535.0,438.3L533.3,432.5L528.3,433.3L523.3,434.2L523.3,429.2L521.7,425.0L519.2,420.8L518.3,415.8L520.0,411.7L524.2,408.7L530.0,409.2L533.3,407.5L535.0,401.7L536.7,396.7L540.0,392.5L545.8,391.7L548.3,387.5L549.7,380.8Z"/>
<path class="omnogovi" fill="#EC706B" stroke="#EC706B" d="M463.7,484.7L476.7,480.0L488.3,478.3L498.3,478.3L501.3,465.0L503.3,457.5L506.7,450.8L510.8,445.8L516.7,442.5L520.0,439.2L523.3,434.2L528.3,433.3L533.3,432.5L535.0,438.3L536.7,446.7L540.0,450.8L546.7,453.3L553.3,455.0L563.3,454.7L573.3,455.0L576.7,460.0L578.3,465.0L583.3,471.7L591.7,477.3L600.0,473.3L608.3,468.3L618.3,465.0L630.0,462.7L639.2,463.0L640.7,473.3L640.0,475.0L642.5,481.7L645.0,490.0L647.0,496.7L646.3,505.0L646.3,513.3L648.0,520.0L649.2,528.3L648.7,536.7L648.0,545.0L648.3,552.5L645.8,553.3L640.0,552.5L634.2,552.5L631.7,550.8L626.7,553.0L623.3,555.0L620.0,556.7L618.3,556.7L611.7,558.3L605.0,561.7L598.3,565.0L591.7,568.3L585.0,571.7L578.3,575.0L572.5,578.3L568.3,581.7L564.2,585.0L559.7,588.7L557.5,586.3L551.7,586.3L546.3,585.8L545.8,577.5L538.3,578.0L531.7,579.2L525.0,579.7L518.3,578.3L511.7,576.3L505.0,573.7L499.2,570.0L493.3,565.8L488.3,564.2L483.3,564.2L477.5,562.5L472.5,560.8L469.2,555.8L465.8,550.0L462.5,548.3L453.3,546.7L446.7,545.3L440.0,543.3L433.3,542.0L426.7,541.3L420.8,541.3L418.3,543.3L411.7,543.0L405.0,544.2L399.2,545.8L398.7,538.3L397.5,530.0L396.3,520.0L395.3,510.0L394.7,500.0L394.2,491.7L394.2,483.3L395.0,480.0L399.2,478.7L405.0,478.7L409.2,481.3L413.3,485.8L416.7,490.0L419.2,492.0L426.7,492.5L435.0,492.5L445.0,492.0L450.8,490.0L455.0,487.5L459.2,485.3L463.7,484.7Z"/>
<path class="govisumber" fill="#FCFBBD" stroke="#FCFBBD" d="M648.3,365.0L653.3,363.3L658.3,363.0L663.3,363.3L667.5,361.7L670.8,358.3L672.5,355.8L675.8,360.0L678.0,363.3L678.0,368.3L677.5,374.2L677.0,378.7L674.2,383.3L670.8,387.5L668.3,391.7L666.7,396.7L665.0,400.3L660.8,400.0L656.7,398.7L653.3,395.8L651.7,390.8L653.0,385.8L654.2,381.7L653.3,376.7L652.5,370.8L650.8,367.5L648.3,365.0Z"/>
</g>
<g class="borders">
<path class="b_bo_uvs" d="M116.3,225.0L117.0,226.7L118.3,230.8L120.8,235.0L125.0,238.3L129.2,241.7L131.7,246.7L133.3,250.8L136.7,253.7L140.8,255.8L142.5,260.0L144.2,264.2L147.5,268.3L150.8,271.7L153.3,275.8L154.2,282.0"/>
<path class="b_bo_khovd" d="M154.2,282.0L150.8,280.3L146.7,281.3L141.7,283.3L137.5,284.2L136.7,285.8L139.2,288.3L139.7,293.3L139.7,300.0L140.0,304.2L143.3,309.2L145.8,315.0L147.5,321.7L150.8,328.3L152.5,335.0L155.8,341.7L158.3,346.7L158.0,351.7L158.3,357.5L163.3,361.7L168.3,365.0L171.7,367.5L169.7,370.8L165.0,371.7L160.0,372.5L156.7,374.5L154.2,372.5L152.5,369.2L146.7,367.5"/>
<path class="b_uvs_khovd" d="M154.2,282.0L156.7,279.2L160.0,275.8L164.2,271.7L168.3,269.7L172.5,269.7L173.0,275.8L175.8,277.5L179.2,280.0L181.7,284.2L188.3,285.0L193.3,286.3L198.3,287.5L200.8,285.8L204.2,283.3L207.5,284.2L210.8,288.3L211.7,290.8L216.7,292.5"/>
<path class="b_uvs_zav" d="M277.5,227.5L275.8,232.5L275.0,238.3L276.7,244.2L280.0,248.3L284.2,252.5L281.7,257.5L279.2,263.3L278.3,270.0L277.5,273.3L272.5,275.3L268.3,279.2L265.0,281.3L255.0,281.3L245.0,279.7L238.3,277.5L235.0,277.5L229.2,280.8L224.7,283.3L223.3,287.5L220.0,290.0L216.7,292.5"/>
<path class="b_khovd_zav" d="M216.7,292.5L218.7,297.5L216.7,303.3L212.5,308.3L209.2,313.0L211.7,317.5L215.8,321.7L221.7,326.3"/>
<path class="b_khovd_ga" d="M221.7,326.3L219.2,330.0L222.5,331.7L225.0,335.0L227.5,339.2L233.7,340.8L236.3,345.0L238.3,350.0L240.8,355.8L242.5,360.0L245.0,363.3L239.2,365.0L232.5,366.7L229.2,370.0L225.8,374.2L221.7,370.8L219.2,371.7L222.5,376.7L221.7,382.5L219.2,387.5L216.7,391.7L215.0,397.5L214.2,403.3L210.8,405.8L206.3,409.2L206.3,411.7L207.5,416.7L208.0,423.3L208.3,431.7L208.7,440.3"/>
<path class="b_zav_ga" d="M221.7,326.3L226.7,324.2L233.3,321.7L238.7,320.3L242.5,322.5L248.3,325.0L256.7,325.3L262.5,326.3L265.8,331.3L271.7,330.8L276.7,330.8L281.7,333.7L287.5,336.7L294.2,340.8L299.2,345.0L300.8,349.2L301.7,355.0L302.5,361.7L306.7,360.3L311.7,357.5L314.2,359.2L316.7,364.2L319.2,368.3L320.8,372.5L326.7,373.3L330.0,370.8L332.5,368.7L335.8,371.7L340.0,372.5"/>
<path class="b_zav_khov" d="M326.3,236.3L323.3,240.0L320.0,244.2L318.3,250.0L321.7,253.3L325.0,257.5L327.5,260.3L337.5,260.8L343.3,264.2L348.3,267.5L356.7,267.5L364.2,266.7L368.3,270.0L372.5,267.5L375.8,264.2L381.7,263.7L385.8,263.7L386.7,270.0L387.0,275.8L388.3,279.2L385.0,282.5L383.3,287.5L383.3,293.3L384.2,298.7"/>
<path class="b_khov_ark" d="M384.2,298.7L390.0,300.8L396.7,299.7L402.5,298.7L404.2,294.2L405.0,290.3L410.0,291.7L414.2,294.2L417.5,293.0L418.3,290.0L425.0,289.2L424.2,285.8L422.0,282.5L422.5,278.3L424.2,274.7L427.5,272.0L430.0,270.8L428.3,268.0L425.8,266.3L430.0,263.3L432.5,260.0L436.7,261.7L443.3,264.2L448.3,266.7L453.3,270.0L458.3,269.7L460.3,268.7"/>
<path class="b_khov_bul" d="M460.0,268.7L459.7,262.5L461.7,258.3L465.8,254.2L470.8,250.8L476.7,248.3L482.5,245.8L485.0,241.3L489.2,240.0L493.0,238.3L492.5,235.8L487.5,233.3L481.7,231.7L475.8,230.0L473.3,226.7L475.0,223.3L478.3,219.2L481.7,214.2L484.2,210.0L488.7,207.5"/>
<path class="b_zav_ark" d="M384.2,298.7L380.0,299.2L374.2,300.8L370.8,304.2L367.5,306.7L362.5,306.7L359.2,308.3L357.5,313.3L357.5,320.0L358.3,324.2L360.8,326.7L364.7,328.0"/>
<path class="b_zav_bkh" d="M364.7,328.0L363.3,332.5L360.0,335.8L359.2,340.8L358.3,344.2L354.2,346.7L350.0,347.5L347.5,350.8L345.0,355.0L344.7,361.7L342.5,366.7L340.0,372.5"/>
<path class="b_ark_bkh" d="M364.7,328.0L366.7,325.0L371.7,323.3L375.3,323.3L376.7,328.3L380.0,333.3L385.0,335.3L390.8,333.3L395.0,330.0L400.0,328.7L404.2,328.0L405.0,333.3L408.0,338.3L409.2,345.0L410.0,352.0L415.0,349.2L423.3,347.5L424.2,353.3L428.3,357.5L432.5,362.0L440.0,361.7L446.7,361.3L450.8,362.5"/>
<path class="b_ga_bkh" d="M340.0,372.5L341.7,378.3L346.7,386.7L355.0,393.3L361.7,403.3L365.0,415.0L364.0,426.7L361.7,438.3L358.3,450.0L357.5,456.7L355.8,463.3L350.8,466.7L349.7,471.7L350.0,478.3L350.3,486.7L349.7,495.0L348.7,503.3L347.5,509.2L344.7,514.2L345.0,521.7L345.3,530.0L345.3,540.0"/>
<path class="b_bul_ark" d="M460.3,268.7L465.0,272.5L470.0,275.8L474.2,277.5L475.8,282.5L477.5,288.3L480.8,294.2L484.2,298.7L490.0,300.8L493.3,305.0L495.8,312.5L498.3,316.7L502.5,320.0L505.8,324.2L508.3,328.3L511.7,333.3L515.8,337.5L518.3,340.0L519.7,343.0"/>
<path class="b_ark_ovo" d="M450.8,362.5L456.7,361.3L465.0,360.0L467.5,356.7L474.2,354.2L480.0,353.3L485.0,356.7L487.5,352.5L490.0,348.3L492.5,343.3L490.0,340.8L489.7,338.3L491.7,337.0L496.7,339.7L501.7,342.5L506.7,346.3L511.7,346.7L517.5,345.8L519.7,343.0"/>
<path class="b_bul_ovo" d="M519.7,343.0L526.7,342.5L534.2,341.7L535.3,341.7"/>
<path class="b_ovo_tov" d="M535.3,341.7L534.7,346.7L536.7,350.8L540.0,353.3L540.3,357.5L536.7,361.7L539.7,366.7L541.3,374.2L545.0,377.5L549.7,380.8"/>
<path class="b_bul_tov" d="M535.3,341.7L533.3,339.2L531.7,335.0L535.8,330.8L541.7,328.3L548.3,327.0L552.0,325.0L550.8,320.8L551.3,315.0L548.3,313.7L543.0,313.3L541.7,309.2L538.3,305.8L539.2,302.5L541.7,298.3L545.0,295.0L545.3,289.2L545.8,285.0"/>
<path class="b_bul_sel" d="M545.8,285.0L545.8,282.5L546.3,278.0L544.7,275.0L543.3,271.7L545.8,269.2L546.3,265.8L545.3,263.0L546.7,256.7L548.0,250.0L548.3,243.3L550.8,238.3L550.0,234.2L546.7,230.0L545.8,225.0L546.7,220.8L544.2,215.8L541.3,213.3"/>
<path class="b_sel_tov" d="M545.8,285.0L551.7,287.5L559.2,289.2L565.8,286.7L573.3,283.7L573.0,279.2L576.7,275.8L583.3,273.7L588.3,274.7L589.2,280.0L590.8,283.3L594.2,281.7L598.3,284.2L602.5,286.7L606.7,288.7L611.7,288.3L615.8,285.8L620.8,284.2L625.0,285.3L627.5,287.5L631.7,285.8L638.3,283.3L639.7,278.3L638.3,274.2L635.0,272.5L634.2,269.2L638.3,265.0L643.3,264.2L648.3,265.0L651.7,267.0L655.8,264.7L660.8,263.0L663.8,262.5"/>
<path class="b_sel_khe" d="M664.7,255.5L663.7,258.3L663.8,262.5"/>
<path class="b_tov_khe" d="M663.8,262.5L668.3,265.8L671.7,270.0L674.2,275.8L675.8,281.7L677.0,288.3L678.3,293.3L680.0,297.5L678.0,302.5L675.8,306.7L671.7,310.0L667.5,313.3L663.3,315.0L662.0,317.5L661.3,321.7L661.7,325.0L660.0,329.2L659.7,330.3L662.5,335.8L665.0,341.7L667.5,348.3L668.3,350.8L672.5,355.8"/>
<path class="b_tov_gs" d="M672.5,355.8L670.8,358.3L667.5,361.7L663.3,363.3L658.3,363.0L653.3,363.3L648.3,365.0"/>
<path class="b_tov_dun" d="M648.3,365.0L645.8,365.8L644.2,368.3L643.3,373.0L640.0,374.2L635.8,376.7L631.7,379.7L626.7,380.3L620.8,380.3L616.7,377.5L612.5,374.2L606.7,373.3L600.0,373.3L593.3,372.5L586.7,369.2L582.5,366.3L579.2,367.5L575.0,372.5L571.7,379.2L565.0,375.0L559.2,372.5L554.2,375.8L549.7,380.8"/>
<path class="b_ovo_dun" d="M549.7,380.8L548.3,387.5L545.8,391.7L540.0,392.5L536.7,396.7L535.0,401.7L533.3,407.5L530.0,409.2L524.2,408.7L520.0,411.7L518.3,415.8L519.2,420.8L521.7,425.0L523.3,429.2L523.3,434.2"/>
<path class="b_ovo_omn" d="M523.3,434.2L520.0,439.2L516.7,442.5L510.8,445.8L506.7,450.8L503.3,457.5L501.3,465.0L498.3,478.3L488.3,478.3L476.7,480.0L463.7,484.7"/>
<path class="b_bkh_ovo" d="M450.8,362.5L453.3,367.5L455.8,373.3L456.3,380.0L455.3,388.3L454.2,392.5L450.0,395.0L449.7,401.7L450.3,408.3L448.3,415.0L445.8,420.0L445.0,426.7L444.7,433.3L446.3,440.0L450.8,444.2L455.8,447.5L458.3,450.0L456.7,455.0L458.3,460.0L460.8,465.0L461.7,475.0L463.3,480.8L463.7,484.7"/>
<path class="b_bkh_omn" d="M463.7,484.7L459.2,485.3L455.0,487.5L450.8,490.0L445.0,492.0L435.0,492.5L426.7,492.5L419.2,492.0L416.7,490.0L413.3,485.8L409.2,481.3L405.0,478.7L399.2,478.7L395.0,480.0L394.2,483.3L394.2,491.7L394.7,500.0L395.3,510.0L396.3,520.0L397.5,530.0L398.7,538.3L399.2,545.8"/>
<path class="b_dun_omn" d="M523.3,434.2L528.3,433.3L533.3,432.5L535.0,438.3L536.7,446.7L540.0,450.8L546.7,453.3L553.3,455.0L563.3,454.7L573.3,455.0L576.7,460.0L578.3,465.0L583.3,471.7L591.7,477.3L600.0,473.3L608.3,468.3L618.3,465.0L630.0,462.7L639.2,463.0"/>
<path class="b_dun_dg" d="M639.2,463.0L640.0,459.2L641.7,455.0L643.3,449.2L646.7,447.5L653.3,446.7L659.7,446.7L660.8,444.2L661.7,440.0L664.2,438.3L667.5,435.8L666.7,432.5L665.0,426.7L663.3,420.0L663.0,413.3L663.7,406.7L665.0,400.3"/>
<path class="b_omn_dg" d="M639.2,463.0L640.7,473.3L640.0,475.0L642.5,481.7L645.0,490.0L647.0,496.7L646.3,505.0L646.3,513.3L648.0,520.0L649.2,528.3L648.7,536.7L648.0,545.0L648.3,552.5"/>
<path class="b_gs_khe" d="M672.5,355.8L675.8,360.0L678.0,363.3L678.0,368.3L677.5,374.2L677.0,378.7"/>
<path class="b_gs_dg" d="M677.0,378.7L674.2,383.3L670.8,387.5L668.3,391.7L666.7,396.7L665.0,400.3"/>
<path class="b_gs_dun" d="M665.0,400.3L660.8,400.0L656.7,398.7L653.3,395.8L651.7,390.8L653.0,385.8L654.2,381.7L653.3,376.7L652.5,370.8L650.8,367.5L648.3,365.0"/>
<path class="b_khe_dg" d="M677.0,378.7L680.0,380.8L682.5,385.0L685.0,389.2L689.2,390.0L694.2,390.8L698.3,389.7L700.0,388.3L703.3,386.7L705.8,381.7L707.5,376.7L708.0,371.7L711.7,372.0L714.2,375.8L716.7,379.2L719.7,384.2L722.5,389.2L725.0,393.3L731.7,395.3L735.8,395.3L740.0,391.3L742.5,388.7"/>
<path class="b_khe_dor" d="M768.3,252.0L771.7,255.0L773.3,261.7L775.3,266.7L774.7,273.3L776.7,279.2L780.0,285.0L783.3,290.8L783.7,296.7L783.3,305.0L785.0,312.5L787.0,319.7"/>
<path class="b_khe_suk" d="M787.0,319.7L778.3,320.8L773.3,325.0L769.2,326.7L768.3,333.3L768.7,340.0L764.2,339.2L760.3,338.3L755.8,340.8L752.5,344.7L750.8,350.0L749.7,356.7L748.3,363.0L745.0,366.7L744.2,373.3L745.0,380.0L743.7,385.0L742.5,388.7"/>
<path class="b_dor_suk" d="M787.0,319.7L788.0,325.0L789.2,328.7L798.3,329.7L806.7,331.3L816.7,332.5L821.7,335.0L828.3,340.0L834.2,344.7L840.0,348.7L838.7,354.2L838.0,360.8L840.8,364.2L846.7,367.5L850.0,371.7L853.7,375.8L860.0,375.0L866.7,374.2L876.7,373.0L886.7,372.5L894.2,372.5L896.7,376.7L899.2,381.7L901.3,386.7"/>
<path class="b_suk_dg" d="M742.5,388.7L749.2,390.8L755.8,395.0L758.7,401.7L758.3,410.0L757.5,417.5L761.7,423.3L764.7,428.3L765.0,437.0"/>
</g>
<g class="islands">
<path class="orkhon" fill="#DF4B68" d="M545.3,263.0L541.7,263.0L539.2,265.0L535.0,263.7L530.8,264.2L529.7,266.7L531.7,269.2L536.7,269.7L540.8,270.8L543.3,271.7L545.8,269.2L546.3,265.8Z"/>
<path class="darkhan" fill="#E04E68" d="M592.5,227.5L595.8,229.2L594.2,233.3L591.7,237.5L591.3,240.8L595.0,243.3L599.2,244.7L602.5,243.7L605.0,241.3L609.2,242.5L612.5,245.0L613.3,250.0L613.0,255.8L612.5,260.8L610.0,263.7L606.7,264.7L602.5,262.5L598.3,260.0L594.2,260.8L590.8,263.0L584.2,262.5L583.7,259.2L585.3,253.3L585.8,246.7L584.7,240.8L584.7,238.0L587.5,235.0L590.3,231.7Z"/>
<path class="ub" fill="#000004" d="M600.0,300.8L604.2,302.0L610.0,303.0L615.8,303.3L621.7,302.0L623.3,304.2L625.8,308.3L629.2,311.7L633.3,314.2L635.3,315.8L635.0,320.8L634.2,325.8L630.8,327.0L626.7,325.8L623.3,323.3L618.3,321.7L613.3,322.5L608.3,323.0L605.3,322.5L604.7,318.3L603.3,313.3L601.7,307.5L600.8,303.3Z"/>
<path class="baganuur" fill="#000004" d="M658.3,314.2L660.8,315.0L662.0,317.5L661.3,321.7L661.7,325.0L660.0,329.2L657.5,330.3L655.8,327.5L655.0,323.3L655.3,319.2L656.7,315.8Z"/>
<path class="bagakhangai" fill="#000004" d="M630.0,338.3L632.5,336.3L635.0,338.0L635.3,340.0L633.0,341.7L630.8,340.8Z"/>
</g>
</g>
<rect x="368" y="624" width="443" height="36" fill="url(#g)"/>
<g stroke="#fff" stroke-width="1.2">
<path d="M378.3,624v7.5M378.3,652.5v7.5M466.7,624v7.5M466.7,652.5v7.5M533.4,624v7.5M533.4,652.5v7.5M688.5,624v7.5M688.5,652.5v7.5M794.4,624v7.5M794.4,652.5v7.5"/>
</g>
</svg>
<div class="title">Population Distribution (2024)</div>
<div class="sub">Mid-year resident population by Aimag (Log Scale)</div>
<div class="legt">Population<br><span style="letter-spacing:0.25px;word-spacing:0.4px">(Log Scale)</span></div>
<div class="lab" style="left:378.3px">20K</div>
<div class="lab" style="left:466.7px">50K</div>
<div class="lab" style="left:533.4px">100K</div>
<div class="lab" style="left:688.5px">500K</div>
<div class="lab" style="left:794.4px">2M</div>
<div class="src">Source: NSO Mongolia</div>
</body></html>
